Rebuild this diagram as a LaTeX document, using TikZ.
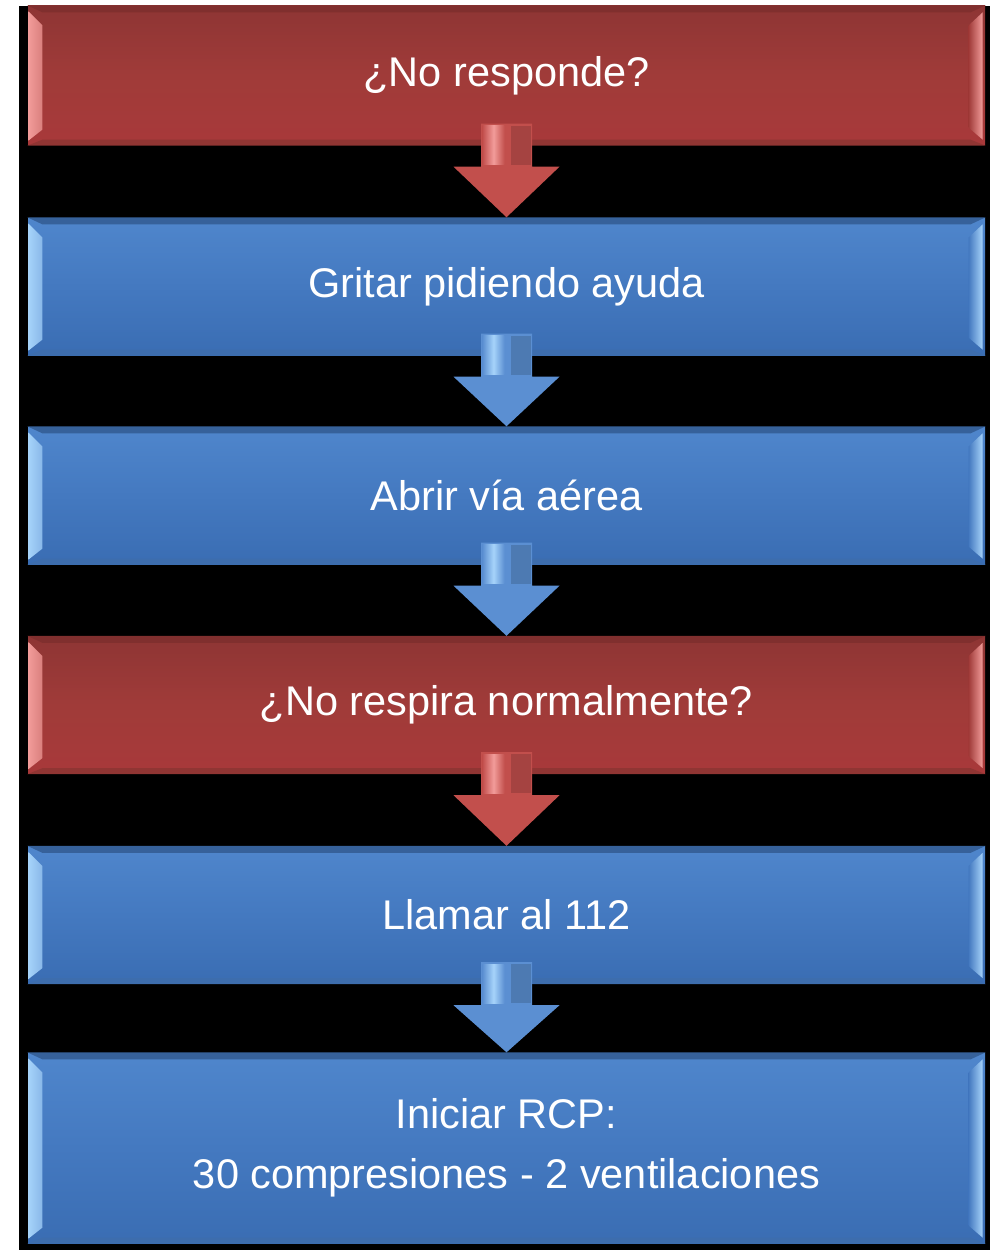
\documentclass[tikz,border=0pt]{standalone}
\usepackage{fontspec}
\setmainfont{Liberation Sans}
\usetikzlibrary{calc}
\definecolor{redtop}{HTML}{8E3534}
\definecolor{redbase}{HTML}{A03B39}
\definecolor{redbot}{HTML}{A8393A}
\definecolor{redlight}{HTML}{F29C9A}
\definecolor{redarrow}{HTML}{C24F4C}
\definecolor{bluetop}{HTML}{4F86CC}
\definecolor{bluebase}{HTML}{4479C0}
\definecolor{bluebot}{HTML}{3A6DB3}
\definecolor{bluelight}{HTML}{A6D3FA}
\definecolor{bluearrow}{HTML}{5B8FD2}
\tikzset{
  flowbox/.style={minimum width=9.57cm, minimum height=1.37cm, inner sep=0pt,
    text=white, font=\fontsize{11.8}{17.1}\selectfont, align=center},
  redbox/.style={flowbox, top color=redtop, bottom color=redbot, middle color=redbase},
  bluebox/.style={flowbox, top color=bluetop, bottom color=bluebot, middle color=bluebase},
}
\newcommand{\bevelbox}[3]{%
  \fill[#3!80!black] (#1.north west) -- (#1.north east) -- ($(#1.north east)+(-0.15,-0.07)$) -- ($(#1.north west)+(0.15,-0.07)$) -- cycle;
  \fill[#3!90!black] (#1.south west) -- (#1.south east) -- ($(#1.south east)+(-0.15,0.06)$) -- ($(#1.south west)+(0.15,0.06)$) -- cycle;
  \shade[left color=#2, right color=#2!70!#3] ($(#1.north west)+(0.01,-0.06)$) -- ($(#1.north west)+(0.15,-0.20)$) -- ($(#1.south west)+(0.15,0.16)$) -- ($(#1.south west)+(0.01,0.05)$) -- cycle;
  \shade[left color=#3, right color=#2] ($(#1.north east)+(-0.17,-0.20)$) -- ($(#1.north east)+(-0.03,-0.07)$) -- ($(#1.south east)+(-0.03,0.06)$) -- ($(#1.south east)+(-0.17,0.18)$) -- cycle;
}
\newcommand{\blockarrow}[4]{%
  \fill[#3] ($(#1.south)+(-0.255,0.22)$) -- ($(#1.south)+(0.255,0.22)$) -- ($(#1.south)+(0.255,-0.21)$) -- ($(#1.south)+(0.53,-0.21)$) -- (#2.north) -- ($(#1.south)+(-0.53,-0.21)$) -- ($(#1.south)+(-0.255,-0.21)$) -- cycle;
  \shade[left color=#3, right color=#3, middle color=#4] ($(#1.south)+(-0.24,0.20)$) rectangle ($(#1.south)+(-0.02,-0.19)$);
  \fill[#3!85!black] ($(#1.south)+(0.04,0.20)$) rectangle ($(#1.south)+(0.24,-0.19)$);
}
\begin{document}
\begin{tikzpicture}
\useasboundingbox[fill=white] (0,0) rectangle (10,-12.5);
\fill[black] (0.19,-0.06) rectangle (9.90,-12.5);
\node[redbox, minimum height=1.39cm] (b1) at (5.065,-0.755) {¿No responde?};
\node[bluebox] (b2) at (5.065,-2.865) {Gritar pidiendo ayuda};
\node[bluebox] (b3) at (5.065,-4.955) {Abrir vía aérea};
\node[redbox] (b4) at (5.065,-7.05) {¿No respira normalmente?};
\node[bluebox] (b5) at (5.065,-9.15) {Llamar al 112};
\node[bluebox, minimum height=1.90cm] (b6) at (5.065,-11.48) {Iniciar RCP:\\30 compresiones - 2 ventilaciones};
\bevelbox{b1}{redlight}{redbase}
\bevelbox{b2}{bluelight}{bluebase}
\bevelbox{b3}{bluelight}{bluebase}
\bevelbox{b4}{redlight}{redbase}
\bevelbox{b5}{bluelight}{bluebase}
\bevelbox{b6}{bluelight}{bluebase}
\blockarrow{b1}{b2}{redarrow}{redlight}
\blockarrow{b2}{b3}{bluearrow}{bluelight}
\blockarrow{b3}{b4}{bluearrow}{bluelight}
\blockarrow{b4}{b5}{redarrow}{redlight}
\blockarrow{b5}{b6}{bluearrow}{bluelight}
\end{tikzpicture}
\end{document}
